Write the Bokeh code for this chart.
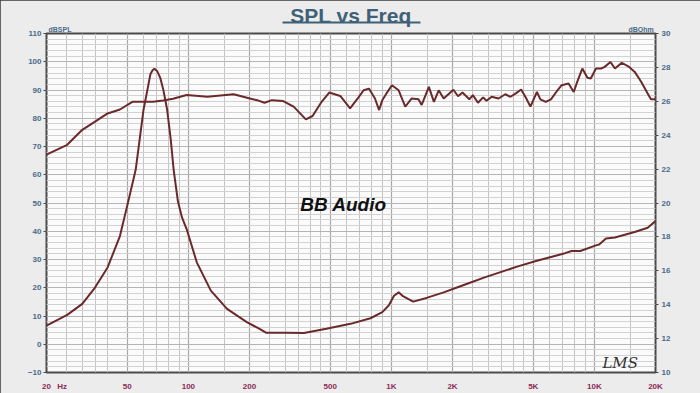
from bokeh.plotting import figure
from bokeh.models import (Range1d, LinearAxis, LogAxis, FixedTicker, Label)
from bokeh.embed import file_html
from bokeh.resources import INLINE

# ---------------- data ----------------
spl_freq = [20, 25.3, 30, 35, 40, 46, 53, 60, 67, 75, 84, 98, 124, 167, 201, 218,
            237, 258, 293, 330, 379, 409, 450, 494, 560, 626, 690, 730, 775, 830,
            870, 902, 950, 1006, 1086, 1170, 1260, 1360, 1410, 1530, 1620, 1710,
            1810, 2020, 2130, 2240, 2420, 2520, 2670, 2830, 2940, 3120, 3370, 3640,
            3860, 4100, 4360, 4620, 4840, 5210, 5420, 5760, 6110, 6490, 6900, 7460,
            7910, 8230, 8720, 9240, 9600, 10180, 10780, 11200, 12000, 12620, 13640,
            14700, 15800, 17000, 18300, 19000, 20000]
spl_db = [67.1, 70.6, 75.9, 79.0, 81.7, 83.1, 85.8, 85.8, 85.8, 86.3, 86.9, 88.2,
          87.6, 88.5, 87.0, 86.4, 85.5, 86.4, 86.1, 84.1, 79.6, 80.8, 85.5, 89.1,
          87.9, 83.5, 87.5, 89.9, 90.5, 87.0, 82.9, 86.4, 89.0, 91.7, 89.9, 84.1,
          87.0, 86.7, 84.7, 91.1, 85.8, 89.9, 87.0, 90.1, 87.8, 89.1, 86.7, 88.2,
          85.5, 87.4, 86.2, 87.6, 87.0, 88.5, 87.6, 88.8, 90.2, 87.0, 84.1, 89.3,
          86.7, 85.8, 86.7, 89.3, 91.7, 92.3, 89.3, 92.9, 97.6, 94.3, 94.1, 97.6,
          97.6, 98.1, 99.9, 97.6, 99.6, 98.4, 96.4, 92.9, 88.8, 86.7, 86.7]

imp_freq = [20, 25.3, 30, 34.3, 40, 46, 50.8, 55, 57.5, 60.1, 62.8, 65, 66.6, 68,
            70.3, 72.6, 75.3, 78.6, 81.9, 84.6, 88.8, 93, 98.1, 110, 129, 155,
            194, 222, 241, 300, 371, 478, 629, 789, 902, 970, 1030, 1086, 1140,
            1280, 1490, 1810, 2120, 2420, 2880, 4200, 5210, 7170, 7730, 8530,
            10180, 10560, 11400, 12620, 15800, 18300, 20000]
imp_dbohm = [12.76, 13.40, 14.05, 14.93, 16.20, 18.05, 20.2, 21.96, 23.72, 25.5,
             26.66, 27.6, 27.83, 27.92, 27.77, 27.4, 26.66, 25.5, 23.72, 21.96,
             20.1, 19.15, 18.45, 16.5, 14.83, 13.75, 12.97, 12.6, 12.35, 12.35,
             12.33, 12.58, 12.87, 13.2, 13.56, 13.95, 14.53, 14.73, 14.50, 14.18,
             14.40, 14.73, 15.03, 15.28, 15.61, 16.26, 16.59, 17.04, 17.17, 17.17,
             17.5, 17.55, 17.9, 17.96, 18.29, 18.54, 18.93]

x_ticks = [20, 50, 100, 200, 500, 1000, 2000, 5000, 10000, 20000]
x_tick_labels = ["20", "50", "100", "200", "500", "1K", "2K", "5K", "10K", "20K"]
x_minor = [25, 30, 35, 40, 60, 70, 80, 90,
           150, 250, 300, 350, 400, 450, 600, 700, 800, 900,
           1500, 2500, 3000, 3500, 4000, 4500, 6000, 7000, 8000, 9000,
           15000]
spl_ticks = list(range(-10, 111, 10))
spl_minor = list(range(-10, 111, 2))
ohm_ticks = list(range(10, 31, 2))

title_text = "SPL vs Freq"
left_unit, right_unit, x_unit = "dBSPL", "dBOhm", "Hz"
# frequency positions where the header/unit texts sit along the log x scale
title_at, underline_span = 632, (291, 1392)
left_unit_at, right_unit_at, x_unit_at = 23.3, 16970, 23.9

# ---------------- figure ----------------
W, H = 700, 393
FL, FR, FT, FB = 46, 45, 33, 19

p = figure(width=W, height=H, x_axis_type="log",
           x_range=Range1d(20, 20000), y_range=Range1d(-10, 110),
           output_backend="svg", toolbar_location=None,
           min_border_left=FL, min_border_right=FR,
           min_border_top=FT, min_border_bottom=FB)
p.extra_y_ranges = {"ohm": Range1d(10, 30)}
p.styles = {"outline": "2px solid #3a3a3a", "outline-offset": "-2px"}

p.background_fill_color = "#fbfbfb"
p.border_fill_color = "#ececec"
p.outline_line_color = "#4a4a4a"
p.outline_line_width = 2

# grids
p.xgrid.ticker = FixedTicker(ticks=x_ticks, minor_ticks=x_minor)
p.xgrid.grid_line_color = "#a8a8a8"
p.xgrid.grid_line_width = 1.2
p.xgrid.minor_grid_line_color = "#c4c4c4"
p.xgrid.minor_grid_line_width = 1
p.ygrid.ticker = FixedTicker(ticks=spl_ticks, minor_ticks=spl_minor)
p.ygrid.grid_line_color = "#b4b4b4"
p.ygrid.minor_grid_line_color = "#d2d2d2"

tick_font = "Liberation Sans"
blue = "#4a6a88"
wine = "#8e2a55"

def bare(axis):
    axis.axis_line_color = None
    axis.major_tick_line_color = None
    axis.minor_tick_line_color = None
    axis.major_tick_out = 0
    axis.minor_tick_out = 0
    axis.major_tick_in = 0
    axis.minor_tick_in = 0

# bottom x axis (with "Hz" unit beside 20)
ax = p.xaxis[0]
ax.ticker = FixedTicker(ticks=x_ticks + [x_unit_at], minor_ticks=[])
ov = {t: l for t, l in zip(x_ticks, x_tick_labels)}
ov[x_unit_at] = x_unit
ax.major_label_overrides = ov
ax.major_label_text_color = wine
ax.major_label_text_font = tick_font
ax.major_label_text_font_style = "bold"
ax.major_label_text_font_size = "8px"
bare(ax)
ax.major_label_standoff = 9

# left SPL axis
ay = p.yaxis[0]
ay.ticker = FixedTicker(ticks=spl_ticks, minor_ticks=[])
ay.major_label_text_color = blue
ay.major_label_text_font = tick_font
ay.major_label_text_font_style = "bold"
ay.major_label_text_font_size = "8px"
bare(ay)
ay.major_label_standoff = 2
ay.major_tick_line_color = "#4a4a4a"
ay.major_tick_out = 3

# right impedance axis
ar = LinearAxis(y_range_name="ohm", ticker=FixedTicker(ticks=ohm_ticks, minor_ticks=[]))
ar.major_label_text_color = blue
ar.major_label_text_font = tick_font
ar.major_label_text_font_style = "bold"
ar.major_label_text_font_size = "8px"
bare(ar)
ar.major_label_standoff = 3
ar.major_tick_line_color = "#4a4a4a"
ar.major_tick_out = 3
p.add_layout(ar, "right")

# top: unit labels row (closest to frame)
au = LogAxis(ticker=FixedTicker(ticks=[left_unit_at, right_unit_at], minor_ticks=[]))
au.major_label_overrides = {left_unit_at: left_unit, right_unit_at: right_unit}
au.major_label_text_color = blue
au.major_label_text_font = tick_font
au.major_label_text_font_style = "bold"
au.major_label_text_font_size = "7px"
bare(au)
au.major_label_standoff = 1
p.add_layout(au, "above")

# top: title with underline
at = LogAxis(ticker=FixedTicker(ticks=[title_at], minor_ticks=[]), bounds=underline_span)
at.major_label_overrides = {title_at: title_text}
at.major_label_text_color = "#3f6177"
at.major_label_text_font = "Liberation Sans"
at.major_label_text_font_style = "bold"
at.major_label_text_font_size = "21px"
bare(at)
at.major_label_standoff = -4
at.axis_line_color = "#3f6177"
at.axis_line_width = 2
p.add_layout(at, "above")

# curves
curve_color = "#6a2a2c"
p.line(spl_freq, spl_db, line_color=curve_color, line_width=2)
p.line(imp_freq, imp_dbohm, line_color=curve_color, line_width=2, y_range_name="ohm")

p.add_layout(Label(x=581, y=49.5, text="BB Audio", text_align="center",
                   text_baseline="middle", text_font="Liberation Sans",
                   text_font_style="bold italic", text_font_size="19px",
                   text_color="#111111"))
p.add_layout(Label(x=13400, y=-6.5, text="LMS", text_align="center",
                   text_baseline="middle", text_font="DejaVu Serif",
                   text_font_style="italic", text_font_size="15px",
                   text_color="#333333"))

open("out.html", "w").write(file_html(p, INLINE))
